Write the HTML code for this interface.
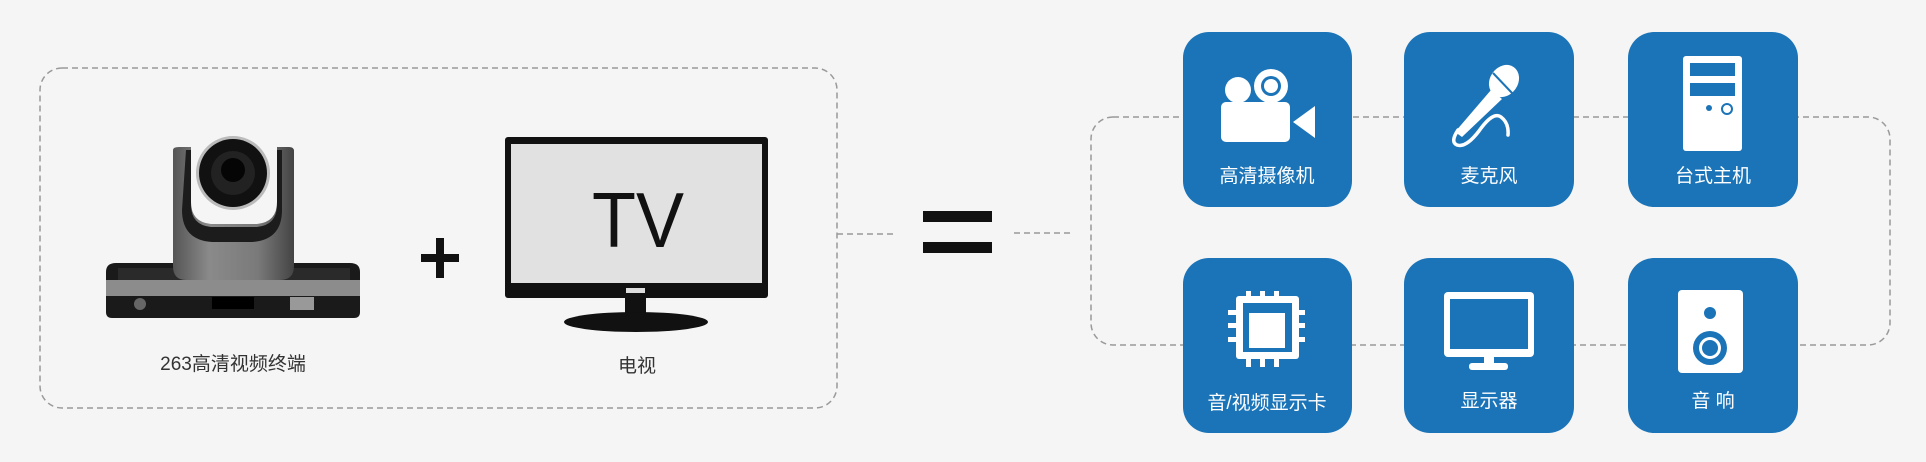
<!DOCTYPE html>
<html><head><meta charset="utf-8"><style>
html,body{margin:0;padding:0;background:#f5f5f5;}
body{width:1926px;height:457px;overflow:hidden;}
text{font-family:"Liberation Sans","Noto Sans CJK SC",sans-serif;}
</style></head><body>
<svg width="1926" height="457" viewBox="0 0 1926 457" xmlns="http://www.w3.org/2000/svg">
<rect width="1926" height="457" fill="#f5f5f5"/>
<g fill="none" stroke="#9a9a9a" stroke-width="1.5" stroke-dasharray="6,4">
<rect x="40" y="68" width="797" height="340" rx="22"/>
<rect x="1091" y="117" width="799" height="228" rx="22"/>
<line x1="837" y1="234" x2="895" y2="234"/>
<line x1="1014" y1="233" x2="1070" y2="233"/>
</g>
<!-- camera -->
<defs><linearGradient id="g1" x1="0" x2="1"><stop offset="0" stop-color="#555"/><stop offset=".3" stop-color="#8a8a8a"/><stop offset=".7" stop-color="#7a7a7a"/><stop offset="1" stop-color="#444"/></linearGradient></defs>
<path d="M106 272 q0-9 10-9 h234 q10 0 10 9 v40 q0 6-6 6 h-242 q-6 0-6-6z" fill="#1a1a1a"/>
<path d="M106 280 h254 v16 h-254z" fill="#8c8c8c"/>
<rect x="118" y="268" width="232" height="12" fill="#2a2a2a"/>
<circle cx="140" cy="304" r="6" fill="#666"/>
<rect x="212" y="297" width="42" height="12" fill="#000"/>
<rect x="290" y="297" width="24" height="13" fill="#999"/>
<path d="M173 150 q0-3 6-3 h12 v55 q0 20 20 22 h46 q20-2 20-22 v-55 h12 q5 0 5 4 v115 q0 14-14 14 h-94 q-13 0-13-14z" fill="url(#g1)"/>
<path d="M186 150 h5 v55 q0 20 20 22 h46 q20-2 20-22 v-55 h5 v60 q0 30-30 32 h-40 q-30-2-30-32z" fill="#1c1c1c"/>
<circle cx="233" cy="173" r="37" fill="#bbb"/>
<circle cx="233" cy="173" r="34" fill="#111"/>
<circle cx="233" cy="173" r="22" fill="#222"/>
<circle cx="233" cy="170" r="12" fill="#050505"/>
<!-- plus -->
<rect x="421" y="254" width="38" height="8" fill="#111"/>
<rect x="436" y="238" width="8" height="40" fill="#111"/>
<!-- TV -->
<rect x="505" y="137" width="263" height="161" rx="3" fill="#111"/>
<rect x="511" y="144" width="251" height="139" fill="#e1e1e1"/>
<rect x="625" y="287" width="21" height="26" fill="#111"/>
<rect x="626" y="288" width="19" height="5" fill="#ddd"/>
<ellipse cx="636" cy="322" rx="72" ry="10" fill="#111"/>
<text x="638" y="247" font-size="78" text-anchor="middle" fill="#111" font-weight="300" textLength="92" lengthAdjust="spacingAndGlyphs">TV</text>
<text x="233" y="370" font-size="19" text-anchor="middle" fill="#333">263高清视频终端</text>
<text x="637" y="372" font-size="19" text-anchor="middle" fill="#333">电视</text>
<!-- equals -->
<rect x="923" y="211" width="69" height="11" fill="#111"/>
<rect x="923" y="242" width="69" height="11" fill="#111"/>
<!-- tiles -->
<g fill="#1b74b8">
<rect x="1183" y="32" width="169" height="175" rx="26"/>
<rect x="1404" y="32" width="170" height="175" rx="26"/>
<rect x="1628" y="32" width="170" height="175" rx="26"/>
<rect x="1183" y="258" width="169" height="175" rx="26"/>
<rect x="1404" y="258" width="170" height="175" rx="26"/>
<rect x="1628" y="258" width="170" height="175" rx="26"/>
</g>
<g fill="#fff" font-size="19" text-anchor="middle">
<text x="1267" y="182">高清摄像机</text>
<text x="1489" y="182">麦克风</text>
<text x="1713" y="182">台式主机</text>
<text x="1267" y="409">音/视频显示卡</text>
<text x="1489" y="407">显示器</text>
<text x="1713" y="407">音 响</text>
</g>
<!-- icons -->
<g fill="#fff">
<circle cx="1238" cy="90" r="13"/>
<circle cx="1271" cy="86" r="17"/>
<circle cx="1271" cy="86" r="10" fill="#1b74b8"/>
<circle cx="1271" cy="86" r="7"/>
<rect x="1221" y="102" width="69" height="40" rx="5"/>
<polygon points="1293,122 1315,106 1315,138"/>
<rect x="1683" y="56" width="59" height="95" rx="3"/>
<rect x="1690" y="63" width="45" height="13" fill="#1b74b8"/>
<rect x="1690" y="83" width="45" height="13" fill="#1b74b8"/>
<circle cx="1709" cy="108" r="3" fill="#1b74b8"/>
<circle cx="1727" cy="109" r="5" fill="none" stroke="#1b74b8" stroke-width="2"/>
<rect x="1236" y="296" width="63" height="63" rx="3"/>
<rect x="1243" y="303" width="49" height="49" fill="#1b74b8"/>
<rect x="1249" y="313" width="36" height="35"/>
<g><rect x="1246" y="291" width="5" height="8"/><rect x="1260" y="291" width="5" height="8"/><rect x="1274" y="291" width="5" height="8"/>
<rect x="1246" y="357" width="5" height="10"/><rect x="1260" y="357" width="5" height="10"/><rect x="1274" y="357" width="5" height="10"/>
<rect x="1228" y="310" width="10" height="5"/><rect x="1228" y="323" width="10" height="5"/><rect x="1228" y="337" width="10" height="5"/>
<rect x="1297" y="310" width="8" height="5"/><rect x="1297" y="323" width="8" height="5"/><rect x="1297" y="337" width="8" height="5"/></g>
<rect x="1444" y="292" width="90" height="65" rx="4"/>
<rect x="1450" y="299" width="78" height="50" fill="#1b74b8"/>
<rect x="1484" y="356" width="10" height="9"/>
<rect x="1469" y="363" width="39" height="7" rx="3"/>
<rect x="1678" y="290" width="65" height="83" rx="4"/>
<circle cx="1710" cy="313" r="6" fill="#1b74b8"/>
<circle cx="1710" cy="348" r="17" fill="#1b74b8"/>
<circle cx="1710" cy="348" r="11"/>
<circle cx="1710" cy="348" r="8" fill="#1b74b8"/>
</g>
<!-- mic -->
<g>
<ellipse cx="1504" cy="81" rx="14" ry="17" transform="rotate(35 1504 81)" fill="#fff"/>
<line x1="1493" y1="73" x2="1512" y2="93" stroke="#1b74b8" stroke-width="2"/>
<path d="M1491 90 l-36 42 l7 5 l40-38z" fill="#fff"/>
<path d="M1458 130 q-8 12 -1 15 q9 3 22-14 q14-20 22-14 q8 6 7 18" fill="none" stroke="#fff" stroke-width="3.5" stroke-linecap="round"/>
</g>
</svg>
</body></html>
